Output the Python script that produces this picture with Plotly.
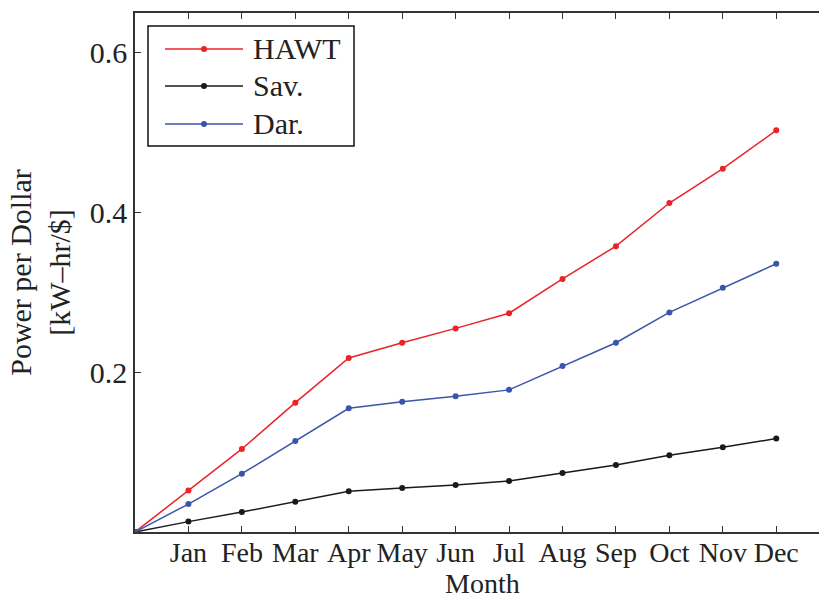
import plotly.graph_objects as go

# Cumulative power per dollar by month (month index 0 = start)
months = ["Jan", "Feb", "Mar", "Apr", "May", "Jun", "Jul", "Aug", "Sep", "Oct", "Nov", "Dec"]
month_idx = list(range(0, 13))

hawt = [0, 0.052, 0.104, 0.162, 0.218, 0.237, 0.255, 0.274, 0.317, 0.358, 0.412, 0.455, 0.503]
sav = [0, 0.013, 0.025, 0.038, 0.051, 0.055, 0.059, 0.064, 0.074, 0.084, 0.096, 0.106, 0.117]
dar = [0, 0.035, 0.073, 0.114, 0.155, 0.163, 0.170, 0.178, 0.208, 0.237, 0.275, 0.306, 0.336]

series_names = ["HAWT", "Sav.", "Dar."]
series_values = [hawt, sav, dar]
series_colors = ["#ec2227", "#1a1a1a", "#3a55aa"]

FONT = "Liberation Serif"
FS = 30
FS_X = 28

W, H = 819, 600
ML, MR, MT, MB = 135, 0, 13, 68
PW, PH = W - ML - MR, H - MT - MB


def px_x(px):
    """Pixel column -> paper x."""
    return (px - ML) / PW


def px_y(py):
    """Pixel row -> paper y."""
    return (H - MB - py) / PH


fig = go.Figure()
for name, vals, color in zip(series_names, series_values, series_colors):
    fig.add_trace(go.Scatter(
        x=month_idx, y=vals, name=name, mode="lines+markers",
        line=dict(color=color, width=1.5),
        marker=dict(color=color, size=6),
        showlegend=False,
    ))

# Boxed legend in the upper-left corner with long line samples
shapes = [dict(type="rect", xref="paper", yref="paper",
               x0=px_x(148), x1=px_x(354), y0=px_y(146), y1=px_y(26),
               line=dict(color="#111111", width=1.5), fillcolor="white", layer="above")]
annotations = []
row_y = [49, 86, 124]
for name, color, ry in zip(series_names, series_colors, row_y):
    shapes.append(dict(type="line", xref="paper", yref="paper",
                       x0=px_x(165), x1=px_x(243), y0=px_y(ry), y1=px_y(ry),
                       line=dict(color=color, width=1.5), layer="above"))
    shapes.append(dict(type="circle", xref="paper", yref="paper",
                       x0=px_x(201), x1=px_x(207), y0=px_y(ry + 3), y1=px_y(ry - 3),
                       line=dict(color=color, width=0), fillcolor=color, layer="above"))
    annotations.append(dict(text=name, xref="paper", yref="paper",
                            x=px_x(251), y=px_y(ry), xanchor="left", yanchor="middle",
                            showarrow=False, font=dict(family=FONT, size=FS, color="#222222")))

# x-axis title set just under the month labels
annotations.append(dict(text="Month", xref="paper", yref="paper",
                        x=px_x(482), y=px_y(601), xanchor="center", yanchor="bottom",
                        showarrow=False, font=dict(family=FONT, size=FS_X, color="#222222")))

axis_color = "#333333"
fig.update_layout(
    width=W, height=H,
    margin=dict(l=ML, r=MR, t=MT, b=MB),
    paper_bgcolor="white", plot_bgcolor="white",
    font=dict(family=FONT, size=FS, color="#222222"),
    showlegend=False,
    shapes=shapes,
    annotations=annotations,
    xaxis=dict(
        range=[0, 12.8],
        tickmode="array", tickvals=list(range(1, 13)), ticktext=months,
        ticks="inside", ticklen=6, tickwidth=1.2, tickcolor=axis_color,
        showline=True, linecolor=axis_color, linewidth=1.5, mirror="ticks",
        showgrid=False, zeroline=False,
        tickfont=dict(family=FONT, size=FS_X),
        ticklabelstandoff=-5,
    ),
    yaxis=dict(
        range=[0, 0.65],
        tickmode="array", tickvals=[0.2, 0.4, 0.6], ticktext=["0.2", "0.4", "0.6"],
        ticks="inside", ticklen=6, tickwidth=1.2, tickcolor=axis_color,
        showline=True, linecolor=axis_color, linewidth=1.5, mirror=False,
        showgrid=False, zeroline=False,
        tickfont=dict(family=FONT, size=FS),
        title=dict(text="Power per Dollar<br>[kW–hr/$]", standoff=10,
                   font=dict(family=FONT, size=FS)),
    ),
)

fig.write_html("out.html")
